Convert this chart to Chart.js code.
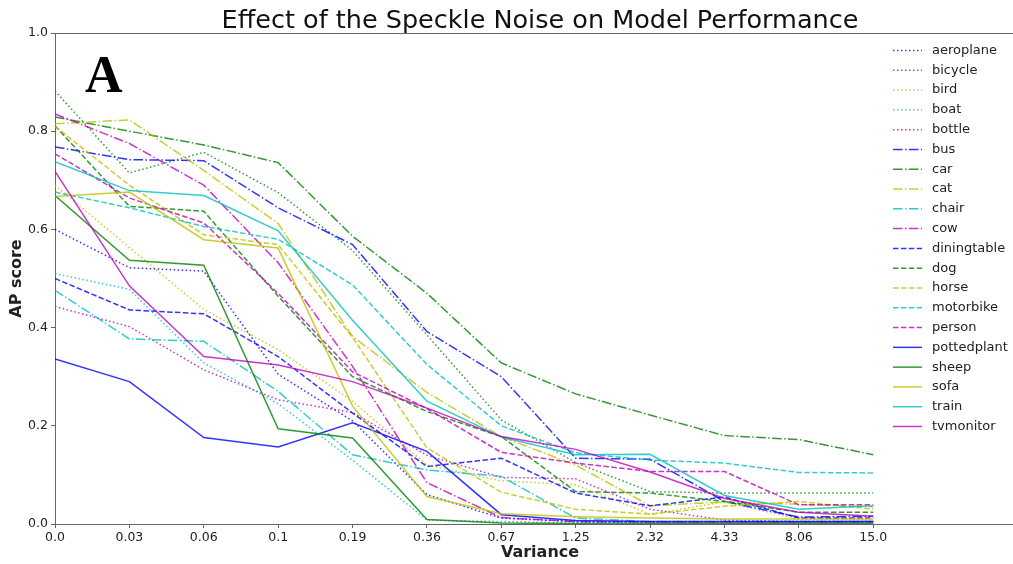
<!DOCTYPE html>
<html>
<head>
<meta charset="utf-8">
<script src="https://cdn.jsdelivr.net/npm/chart.js@4.4.1/dist/chart.umd.min.js"></script>
<style>
    html, body { margin: 0; padding: 0; background: #fff; overflow: hidden; }
    #apChart { display: block; }
</style>
</head>
<body>
<canvas id="apChart" width="1026" height="564"></canvas>
<script>
// noise variance steps (x axis) and AP per class
const variances = ['0.0', '0.03', '0.06', '0.1', '0.19', '0.36', '0.67', '1.25', '2.32', '4.33', '8.06', '15.0'];
const classes = ['aeroplane', 'bicycle', 'bird', 'boat', 'bottle', 'bus', 'car', 'cat', 'chair', 'cow',
                 'diningtable', 'dog', 'horse', 'motorbike', 'person', 'pottedplant', 'sheep', 'sofa', 'train', 'tvmonitor'];

const aeroplane   = [0.600, 0.522, 0.515, 0.305, 0.210, 0.060, 0.012, 0.005, 0.003, 0.003, 0.003, 0.003];
const bicycle     = [0.882, 0.715, 0.757, 0.675, 0.557, 0.385, 0.212, 0.125, 0.066, 0.063, 0.063, 0.063];
const bird        = [0.690, 0.563, 0.437, 0.355, 0.250, 0.120, 0.088, 0.080, 0.020, 0.045, 0.010, 0.008];
const boat        = [0.510, 0.478, 0.328, 0.245, 0.130, 0.008, 0.005, 0.003, 0.003, 0.003, 0.003, 0.003];
const bottle      = [0.443, 0.402, 0.314, 0.253, 0.227, 0.140, 0.095, 0.092, 0.030, 0.008, 0.005, 0.005];
const bus         = [0.768, 0.742, 0.740, 0.644, 0.569, 0.392, 0.300, 0.134, 0.132, 0.046, 0.014, 0.016];
const car         = [0.829, 0.800, 0.772, 0.736, 0.586, 0.470, 0.328, 0.265, 0.222, 0.180, 0.172, 0.141];
const cat         = [0.815, 0.823, 0.720, 0.612, 0.382, 0.268, 0.178, 0.120, 0.037, 0.045, 0.040, 0.035];
const chair       = [0.476, 0.377, 0.372, 0.270, 0.141, 0.110, 0.097, 0.012, 0.005, 0.005, 0.005, 0.005];
const cow         = [0.835, 0.775, 0.690, 0.532, 0.321, 0.084, 0.013, 0.005, 0.004, 0.004, 0.004, 0.004];
const diningtable = [0.500, 0.436, 0.428, 0.341, 0.226, 0.117, 0.134, 0.063, 0.037, 0.055, 0.012, 0.012];
const dog         = [0.811, 0.647, 0.637, 0.464, 0.300, 0.229, 0.178, 0.066, 0.063, 0.046, 0.024, 0.024];
const horse       = [0.810, 0.690, 0.589, 0.569, 0.380, 0.155, 0.065, 0.030, 0.020, 0.036, 0.046, 0.030];
const motorbike   = [0.676, 0.644, 0.606, 0.580, 0.487, 0.325, 0.200, 0.145, 0.130, 0.124, 0.105, 0.104];
const person      = [0.754, 0.664, 0.613, 0.470, 0.310, 0.235, 0.146, 0.124, 0.107, 0.107, 0.039, 0.039];
const pottedplant = [0.336, 0.290, 0.176, 0.157, 0.206, 0.148, 0.019, 0.007, 0.005, 0.005, 0.005, 0.005];
const sheep       = [0.669, 0.537, 0.527, 0.194, 0.175, 0.009, 0.002, 0.001, 0.001, 0.001, 0.001, 0.001];
const sofa        = [0.667, 0.676, 0.579, 0.562, 0.240, 0.056, 0.021, 0.015, 0.012, 0.010, 0.010, 0.010];
const train       = [0.738, 0.679, 0.669, 0.597, 0.415, 0.250, 0.177, 0.141, 0.142, 0.058, 0.030, 0.037];
const tvmonitor   = [0.718, 0.485, 0.341, 0.324, 0.290, 0.236, 0.178, 0.152, 0.106, 0.052, 0.024, 0.016];

const allScores = [aeroplane, bicycle, bird, boat, bottle, bus, car, cat, chair, cow,
                   diningtable, dog, horse, motorbike, person, pottedplant, sheep, sofa, train, tvmonitor];

// colour cycles every 5 classes, line style changes every 5
const palette = ['rgba(0,0,255,0.8)', 'rgba(0,128,0,0.8)', 'rgba(191,191,0,0.8)', 'rgba(0,191,191,0.8)', 'rgba(191,0,191,0.8)'];
const dashes = [[1.5, 2.5], [9.6, 2.4, 1.5, 2.4], [5.5, 2.4], []];

function init(){
    Chart.defaults.font.family = "'DejaVu Sans', sans-serif";
    Chart.defaults.color = '#222';
    createChart();
}

function buildDatasets(){
    let sets = [];
    for(let i = 0; i < classes.length; i++){
        sets.push({
            label: classes[i],
            data: allScores[i].map((v, k) => ({x: k, y: v})),
            borderColor: palette[i % 5],
            backgroundColor: palette[i % 5],
            borderDash: dashes[Math.floor(i / 5)],
            borderWidth: 1.5,
            pointRadius: 0,
            tension: 0,
            fill: false,
            order: classes.length - i
        });
    }
    return sets;
}

// title, panel letter, top spine and the legend box in the plot area
const decorations = {
    id: 'decorations',
    afterDraw(chart){
        const ctx = chart.ctx;
        const area = chart.chartArea;
        ctx.save();

        ctx.strokeStyle = '#666';
        ctx.lineWidth = 1;
        ctx.beginPath();
        ctx.moveTo(area.left, area.top + 0.5);
        ctx.lineTo(area.right, area.top + 0.5);
        ctx.stroke();

        ctx.fillStyle = '#111';
        ctx.font = "25.5px 'DejaVu Sans'";
        ctx.textAlign = 'center';
        ctx.textBaseline = 'alphabetic';
        ctx.fillText('Effect of the Speckle Noise on Model Performance', (area.left + area.right) / 2, 28);

        ctx.fillStyle = '#000';
        ctx.font = "bold 52px 'Liberation Serif'";
        ctx.textAlign = 'left';
        ctx.fillText('A', 85, 92);

        ctx.font = "13px 'DejaVu Sans'";
        ctx.textBaseline = 'middle';
        chart.data.datasets.forEach((ds, i) => {
            let y = 50.5 + i * 19.79;
            ctx.strokeStyle = ds.borderColor;
            ctx.lineWidth = 1.5;
            ctx.setLineDash(ds.borderDash);
            ctx.beginPath();
            ctx.moveTo(893, y);
            ctx.lineTo(922, y);
            ctx.stroke();
            ctx.setLineDash([]);
            ctx.fillStyle = '#222';
            ctx.fillText(ds.label, 932, y);
        });
        ctx.restore();
    }
};

function createChart(){
    const canvas = document.getElementById('apChart');
    new Chart(canvas, {
        type: 'line',
        data: { datasets: buildDatasets() },
        options: {
            responsive: false,
            animation: false,
            layout: { padding: { top: 33, right: 1, bottom: 0, left: 0 } },
            plugins: {
                legend: { display: false },
                tooltip: { enabled: false }
            },
            scales: {
                x: {
                    type: 'linear',
                    min: 0,
                    max: 13.04,
                    afterFit: (scale) => { scale.height = 40; },
                    afterBuildTicks: (scale) => {
                        scale.ticks = variances.map((_, k) => ({value: k}));
                    },
                    ticks: {
                        autoSkip: false,
                        maxRotation: 0,
                        padding: 2,
                        font: { size: 12.5 },
                        callback: (value) => variances[Math.round(value)]
                    },
                    grid: { drawOnChartArea: false, tickLength: 4, color: '#666' },
                    border: { color: '#666' },
                    title: {
                        display: true,
                        text: 'Variance',
                        font: { size: 16, weight: 'bold' },
                        padding: { top: 0, bottom: 2 }
                    }
                },
                y: {
                    min: 0,
                    max: 1,
                    afterFit: (scale) => { scale.width = 55; },
                    ticks: {
                        stepSize: 0.2,
                        padding: 3,
                        font: { size: 12.5 },
                        callback: (value) => value.toFixed(1)
                    },
                    grid: { drawOnChartArea: false, tickLength: 4, color: '#666' },
                    border: { color: '#666' },
                    title: {
                        display: true,
                        text: 'AP score',
                        font: { size: 16, weight: 'bold' },
                        padding: { top: 7.4, bottom: 0 }
                    }
                }
            }
        },
        plugins: [decorations]
    });
}

document.addEventListener("DOMContentLoaded", init);
</script>
</body>
</html>
